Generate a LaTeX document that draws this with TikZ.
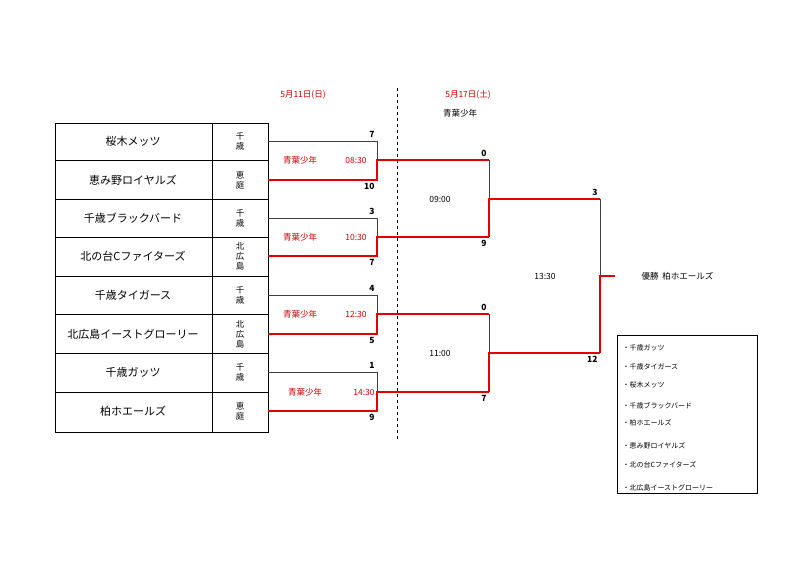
\documentclass[tikz,border=0pt]{standalone}
\usepackage{fontspec}
\setmainfont{Noto Sans CJK JP}
\begin{document}
\begin{tikzpicture}[x=1pt,y=-1pt,
 bl/.style={line width=0.8pt,black!75},
 rd/.style={line width=1.8pt,red!90!black},
 team/.style={font=\fontsize{11}{12}\selectfont},
 plc/.style={font=\fontsize{8.5}{10}\selectfont,align=center},
 sc/.style={font=\bfseries\fontsize{8.5}{9}\selectfont},
 tm/.style={font=\fontsize{8.5}{9}\selectfont},
 rt/.style={font=\fontsize{8.5}{9}\selectfont,text=red!80!black},
 li/.style={font=\fontsize{7}{8}\selectfont,anchor=west}]
\useasboundingbox (0,0) rectangle (800,580);
% table
\draw[line width=0.7pt] (55,123) rectangle (268,432);
\draw[line width=0.7pt] (212,123) -- (212,432);
\foreach \y in {160,199,237,276,314,353,392} \draw[line width=0.7pt] (55,\y) -- (268,\y);
\foreach \y/\t/\p [count=\i] in {141/桜木メッツ/千\\歳,180/恵み野ロイヤルズ/恵\\庭,218/千歳ブラックバード/千\\歳,256/北の台Cファイターズ/北\\広\\島,295/千歳タイガース/千\\歳,334/北広島イーストグローリー/北\\広\\島,372/千歳ガッツ/千\\歳,411/柏ホエールズ/恵\\庭}{
 \node[team] (t\i) at (133,\y) {\t};
 \node[plc] (p\i) at (240,\y) {\p};}
% headers
\node[rt] (h1) at (303,95) {5月11日(日)};
\node[rt] (h2) at (468,95) {5月17日(土)};
\node[tm] (h3) at (460,113) {青葉少年};
\draw[dashed,line width=0.6pt] (397,88) -- (397,440);
% round 1
\foreach \a/\b/\o/\s/\r/\tt/\gx/\tx [count=\i] in {141/180/160/7/10/08:30/300/356,218/256/237/3/7/10:30/300/356,295/334/314/4/5/12:30/300/356,372/411/392/1/9/14:30/305/364}{
 \draw[bl] (268,\a) -- (377,\a) -- (377,\o);
 \draw[rd] (268,\b) -- (377,\b) -- (377,\o) -- (489,\o);
 \node[sc,anchor=south east] (s\i a) at (378,\a) {\s};
 \node[sc,anchor=north east] (s\i b) at (378,\b) {\r};
 \node[rt] (g\i) at (\gx,\o) {青葉少年};
 \node[rt] (tm\i) at (\tx,\o) {\tt};
}
% round 2
\draw[bl] (489,160) -- (489,199);
\draw[rd] (489,237) -- (489,199) -- (600,199);
\draw[bl] (489,314) -- (489,353);
\draw[rd] (489,392) -- (489,353) -- (600,353);
\node[sc,anchor=south east] at (490,160) {0};
\node[sc,anchor=north east] at (490,237) {9};
\node[sc,anchor=south east] at (490,314) {0};
\node[sc,anchor=north east] at (490,392) {7};
\node[tm] (m1) at (440,199) {09:00};
\node[tm] (m2) at (440,353) {11:00};
% final
\draw[bl] (600,199) -- (600,276);
\draw[rd] (600,353) -- (600,276) -- (615,276);
\node[sc,anchor=south east] at (601,199) {3};
\node[sc,anchor=north east] at (601,353) {12};
\node[tm] (m3) at (545,276) {13:30};
\node[tm,anchor=west] (win) at (638,276) {優勝\ \ 柏ホエールズ};
% list
\draw[line width=0.8pt] (617,335) rectangle (757,493);
\foreach \y/\t [count=\i] in {348/千歳ガッツ,367/千歳タイガース,385/桜木メッツ,406/千歳ブラックバード,423/柏ホエールズ,446/恵み野ロイヤルズ,465/北の台Cファイターズ,488/北広島イーストグローリー}
 \node[li] (l\i) at (619,\y) {・\t};
\end{tikzpicture}
\end{document}
